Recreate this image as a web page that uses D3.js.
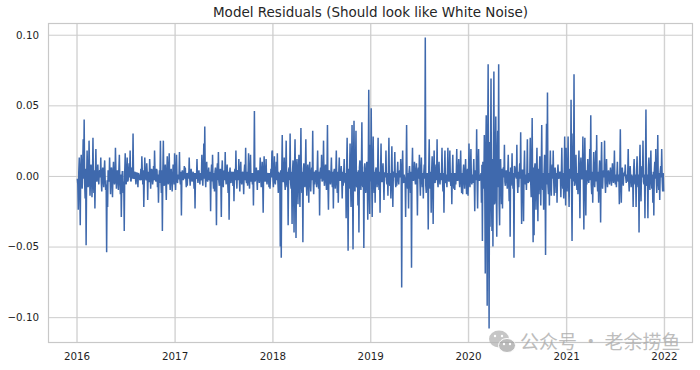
<!DOCTYPE html>
<html>
<head>
<meta charset="utf-8">
<script src="https://cdn.jsdelivr.net/npm/d3@7"></script>
<style>
  html, body { margin: 0; padding: 0; background: #fff; }
  svg { display: block; }
  text { font-family: "DejaVu Sans", sans-serif; }
</style>
</head>
<body>
<script>
// residuals, in thousandths, about 100 per year
var years = [2016, 2017, 2018, 2019, 2020, 2021];
var residuals2016 = [-2,-24,13,-35,15,-9,26,40,-16,-49,18,-8,25,-14,8,-15,27,-12,-23,19,-4,8,-6,4,13,-11,6,-8,11,-10,-54,-22,3,13,-13,6,-15,10,-6,20,-9,4,-10,15,-13,-29,3,-12,-39,16,-6,13,-3,9,18,-4,6,30,-2,3,-6,2,-8,1,-3,5,14,-6,-22,13,-2,9,-17,-4,12,-9,5,-6,7,18,-3,5,-8,-19,4,25,-12,-39,25,-7,8,-17,14,-6,16,-10,5,-11,8,-6];
var residuals2017 = [16,-10,15,-5,-2,17,-6,-28,4,-3,7,6,-8,-7,2,13,-7,5,-4,3,-9,-23,-1,12,-5,4,-6,-3,15,-7,23,35,-8,10,-4,6,-3,-25,8,15,-9,-11,6,-35,9,17,-7,5,-29,11,-8,4,17,-6,8,-12,-31,6,-5,3,-7,-18,5,18,-9,4,12,-11,10,-6,3,-13,8,20,-5,-7,16,-9,15,2,-6,-21,46,-3,6,-10,4,-5,13,-8,10,-26,14,-4,12,-6,2,-8,-9,5,17];
var residuals2018 = [18,-8,14,-6,10,16,-12,-3,-50,-58,29,-4,13,-10,25,-8,-35,6,30,-9,-34,11,-40,26,-44,12,-20,15,-22,34,-12,-47,9,-8,26,-14,8,-19,10,-11,6,32,-13,-6,4,-8,18,-9,-28,6,15,-3,25,-7,8,-10,36,-24,3,-6,13,-8,-23,5,-9,18,-12,-19,13,-3,7,-16,-7,12,-5,-30,27,-53,-9,23,-22,36,-52,39,-11,32,-8,-21,-40,11,-10,38,-8,-51,9,-12,10,-31,61,-27];
var residuals2019 = [22,48,-29,28,-12,-19,6,-8,27,-10,-26,23,-4,9,-17,2,18,-6,-14,27,-7,-16,21,-22,3,17,-8,-7,10,-6,4,12,-79,18,-5,-4,-29,36,-9,-23,7,-12,-65,20,-3,10,-6,9,-28,6,15,-14,13,-8,-16,8,98,-12,-10,-38,26,-9,-26,14,-34,18,-5,8,26,-8,10,-6,-3,20,-11,-26,18,-5,-8,20,-4,18,-7,-20,15,-9,-10,-6,19,-3,12,-8,18,-12,-13,8,-9,12,-13,5];
var residuals2020 = [-14,23,-8,19,-6,-5,12,-25,-3,33,-23,19,-3,-2,-19,-46,8,29,-69,43,-92,79,-108,-36,69,-39,-50,74,-19,42,-43,32,79,-35,12,-20,-23,6,22,-7,4,-9,15,-18,-43,-7,16,-9,-58,6,4,22,-12,-8,9,31,-34,4,-32,18,-6,-10,26,-5,-4,27,-15,41,-47,-42,9,-24,20,-32,-13,14,-21,36,-10,-24,15,-56,37,59,-13,-21,18,-14,8,18,-14,6,-12,-19,8,-2,3,-15,20,-9,-16,28,-21];
var residuals2021 = [20,-11,28,-22,5,54,-46,30,72,-6,15,-10,-13,18,-30,13,-2,28,-38,27,-28,-6,12,-5,19,43,-13,-19,17,-8,18,29,-11,-19,11,-33,24,-9,4,25,-12,12,-8,4,-6,6,-7,9,-5,18,-6,-8,10,-4,-20,33,-19,6,-7,2,8,-5,-4,19,-11,7,-8,-1,-22,12,-6,-22,14,-8,-40,22,-18,7,25,-6,-30,47,-7,-30,13,-10,18,-9,-19,-28,10,19,-12,29,-10,-17,7,19,-11,-11];
var allResiduals = [residuals2016, residuals2017, residuals2018, residuals2019, residuals2020, residuals2021];

// smaller days between the ones above, these fill the central band
var between2016 = [-6,3,-7,5,-4,6,-2,-5,5,-3,2,-6,4,-2,4,-3,-4,4,1,-3,3,-2,3,-1,-4,2,-2,4,-3,-6,-3,4,-4,-1,5,-4,2,-2,-4,3,-3,2,4,-3,1,-5,3,-4,3,-2,2,-4,3,-1,-3,4,-2,-1,2,-2,2,-1,2,-1,-2,-3,3,4,-3,2,-3,2,3,-4,3,-1,4,-3,-3,3,-4,4,1,-3,-5,-3,4,3,-3,4,-4,2,-2,5,-3,3,-2,-2,4,-1];
var between2017 = [-3,2,-3,1,-2,-3,3,2,-1,1,-2,-1,2,1,-2,-1,1,-2,1,-1,2,2,-2,-1,1,-1,2,-2,-1,3,-2,-1,2,-3,1,-2,3,2,-4,-3,2,3,-3,3,-3,-4,3,-3,3,-3,2,-3,-2,3,-3,3,2,-3,2,-2,3,2,-3,-2,3,-3,-2,3,-3,2,-2,3,-3,-3,3,2,-3,3,-4,-2,2,3,-4,2,-2,3,-1,2,-2,2,-3,3,-2,1,-3,1,-2,2,-2,-1];
var between2018 = [-2,3,-4,2,-3,-3,3,2,4,3,-4,2,-4,3,-5,3,4,-3,-5,3,4,-4,5,-4,6,-3,4,-4,5,-6,3,5,-3,3,-5,3,-3,4,-3,2,-3,-5,3,2,-2,3,-4,3,3,-2,-4,1,-3,3,-2,3,-6,4,-1,2,-3,3,3,-2,3,-4,3,2,-3,1,-2,3,2,-3,2,4,-6,5,3,-6,5,-7,6,-6,4,-7,3,4,6,-4,3,-6,3,6,-4,3,-3,5,-7,5];
var between2019 = [-4,-6,5,-4,3,4,-2,3,-4,3,4,-4,2,-3,2,-1,-3,2,3,-4,2,3,-3,2,-1,-3,2,2,-2,2,-1,-2,3,-3,1,-1,3,-4,2,3,-2,3,4,-3,1,-2,2,-3,3,-2,-3,2,-2,2,2,-2,-7,2,2,4,-4,3,4,-3,4,-3,2,-3,-4,3,-3,2,1,-3,2,3,-3,1,2,-3,1,-3,2,3,-3,2,2,1,-3,1,-2,2,-3,2,2,-2,2,-2,2,-1];
var between2020 = [2,-4,2,-3,1,1,-2,4,-1,-5,4,-3,1,2,8,10,-9,-11,16,-18,20,-22,24,14,-16,12,14,-20,12,-10,10,-8,-20,9,-3,5,4,-1,-4,2,-1,2,-3,3,6,-2,-3,2,7,-1,-2,-4,3,2,-2,-5,4,-1,4,-3,1,3,-4,2,1,-5,3,-6,6,5,-2,4,-4,5,3,-3,3,-6,2,3,-3,7,-6,-7,2,3,-3,3,-2,-3,3,-1,2,3,-1,1,0,2,-3,2,2,-4,3];
var between2021 = [-3,2,-4,3,-2,-7,6,-4,-7,1,-3,2,3,-3,5,-2,1,-5,5,-4,4,1,-2,1,-3,-6,3,3,-3,2,-4,-4,3,3,-2,5,-4,2,-1,-4,2,-2,2,-1,1,-1,1,-2,1,-3,1,1,-2,1,3,-4,3,-1,1,0,-1,1,1,-3,2,-1,1,0,4,-2,1,4,-2,1,6,-4,3,-1,-4,1,5,-6,1,5,-2,2,-3,1,3,4,-2,-3,2,-4,2,3,-1,-3,2];
var allBetween = [between2016, between2017, between2018, between2019, between2020, between2021];

var yTicks = [-0.10, -0.05, 0, 0.05, 0.10];
var titleText = "Model Residuals (Should look like White Noise)";
var markText = "公众号 · 老余捞鱼";

var width = 700, height = 370;
var margin = {top: 23, right: 7, bottom: 27, left: 48};

var firstDay = new Date(Date.UTC(2016, 0, 4));
var lastDay = new Date(Date.UTC(2021, 11, 31));

// weave the two lists and spread every year's values over that year
var data = [];
years.forEach(function (yr, k) {
    var vals = [];
    allResiduals[k].forEach(function (v, i) {
        vals.push(v);
        if (allBetween[k][i] !== undefined && i < allResiduals[k].length - 1) vals.push(allBetween[k][i]);
    });
    var start = k == 0 ? firstDay.getTime() : Date.UTC(yr, 0, 1);
    var end = k == years.length - 1 ? lastDay.getTime() : Date.UTC(yr + 1, 0, 1);
    for (var i = 0; i < vals.length; i++) {
        var frac = k == years.length - 1 ? i / (vals.length - 1) : i / vals.length;
        data.push({date: new Date(start + frac * (end - start)), value: vals[i] / 1000});
    }
});

var svg = d3.select("body").append("svg")
    .attr("width", width)
    .attr("height", height);

// matplotlib style 5% margins
var pad = (lastDay - firstDay) * 0.05;
var x = d3.scaleUtc()
    .domain([new Date(firstDay.getTime() - pad), new Date(lastDay.getTime() + pad)])
    .range([margin.left, width - margin.right]);

var ext = d3.extent(data, function (d) { return d.value; });
var yPad = (ext[1] - ext[0]) * 0.05;
var y = d3.scaleLinear()
    .domain([ext[0] - yPad, ext[1] + yPad])
    .range([height - margin.bottom, margin.top]);

var xAxis = d3.axisBottom(x)
    .tickValues(years.concat([2022]).map(function (yr) { return new Date(Date.UTC(yr, 0, 1)); }))
    .tickFormat(d3.utcFormat("%Y"))
    .tickSize(-(height - margin.top - margin.bottom))
    .tickPadding(10);

var yAxis = d3.axisLeft(y)
    .tickValues(yTicks)
    .tickFormat(function (d) { return d3.format(".2f")(d).replace("-", "\u2212"); })
    .tickSize(-(width - margin.left - margin.right))
    .tickPadding(9);

var gx = svg.append("g").attr("transform", "translate(0," + (height - margin.bottom) + ")").call(xAxis);
var gy = svg.append("g").attr("transform", "translate(" + margin.left + ",0)").call(yAxis);

gx.select(".domain").remove();
gy.select(".domain").remove();
gx.selectAll("line").attr("stroke", "#d2d2d2").attr("stroke-width", 1.4);
gy.selectAll("line").attr("stroke", "#cccccc").attr("stroke-width", 1);
svg.selectAll(".tick text").attr("fill", "#1f1f1f").attr("font-size", 10.3);

// frame
svg.append("rect")
    .attr("x", margin.left + 0.5)
    .attr("y", margin.top + 0.5)
    .attr("width", width - margin.left - margin.right - 1)
    .attr("height", height - margin.top - margin.bottom - 1)
    .attr("fill", "none")
    .attr("stroke", "#c8c8c8")
    .attr("stroke-width", 1.2);

var line = d3.line()
    .x(function (d) { return x(d.date); })
    .y(function (d) { return y(d.value); });

svg.append("path")
    .datum(data)
    .attr("fill", "none")
    .attr("stroke", "#3f69ad")
    .attr("stroke-width", 1.5)
    .attr("d", line);

svg.append("text")
    .attr("x", 370.5)
    .attr("y", 17)
    .attr("text-anchor", "middle")
    .attr("fill", "#262626")
    .attr("font-size", 13.5)
    .text(titleText);

// watermark in the lower right corner
var mark = svg.append("g").attr("opacity", 0.75);
mark.append("ellipse").attr("cx", 499).attr("cy", 339).attr("rx", 10).attr("ry", 8.5).attr("fill", "#b4b4b4");
mark.append("ellipse").attr("cx", 507).attr("cy", 345.5).attr("rx", 8.5).attr("ry", 7).attr("fill", "#a6a6a6").attr("stroke", "#fff").attr("stroke-width", 1);
mark.selectAll("circle.eye")
    .data([[495, 336], [502, 336], [504, 344], [510, 344]])
    .enter().append("circle")
    .attr("cx", function (d) { return d[0]; })
    .attr("cy", function (d) { return d[1]; })
    .attr("r", 1.2)
    .attr("fill", "#fff");
mark.append("text")
    .attr("x", 520)
    .attr("y", 348.5)
    .attr("fill", "#a8a8a8")
    .attr("font-size", 19)
    .style("font-family", '"Noto Sans CJK SC", sans-serif')
    .text(markText);
</script>
</body>
</html>
